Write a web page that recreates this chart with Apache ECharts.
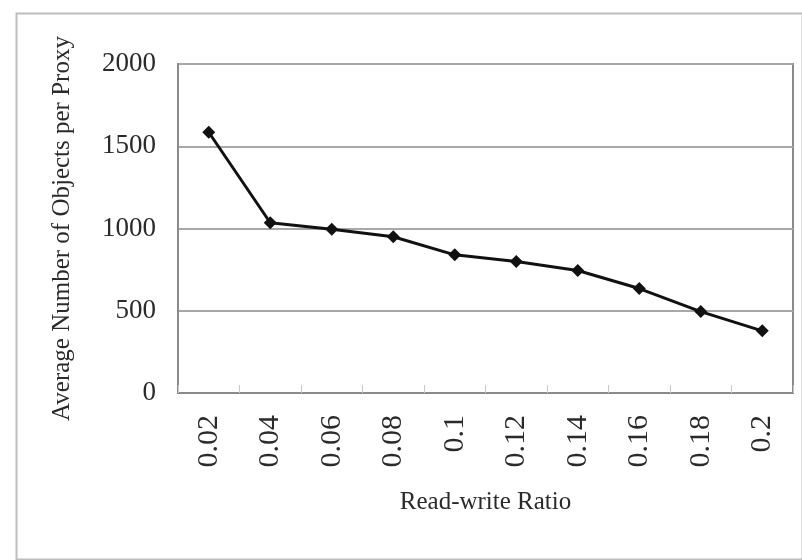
<!DOCTYPE html>
<html>
<head>
<meta charset="utf-8">
<script src="https://cdn.jsdelivr.net/npm/echarts@6/dist/echarts.min.js"></script>
<style>
html,body{margin:0;padding:0;background:#fff;}
#chart{width:802px;height:560px;}
</style>
</head>
<body>
<div id="chart"></div>
<script>
var categories = ['0.02','0.04','0.06','0.08','0.1','0.12','0.14','0.16','0.18','0.2'];
var objectsPerProxy = [1585, 1035, 995, 950, 840, 800, 745, 635, 495, 378];
var yTicks = [0, 500, 1000, 1500, 2000];
var xTitle = 'Read-write Ratio';
var yTitle = 'Average Number of Objects per Proxy';

var chart = echarts.init(document.getElementById('chart'), null, {renderer:'canvas'});
var font = '"Liberation Serif", "DejaVu Serif", serif';
chart.setOption({
  animation: false,
  backgroundColor: '#fff',
  graphic: [{
    type: 'rect', left: 14, top: 11,
    shape: {width: 786, height: 546},
    style: {fill: 'none', stroke: '#bdbdbd', lineWidth: 2}
  }],
  grid: {
    left: 178, right: 9, top: 64, bottom: 167,
    show: true, borderColor: '#8a8a8a', borderWidth: 2, backgroundColor: 'transparent'
  },
  xAxis: {
    type: 'category',
    data: categories,
    boundaryGap: true,
    name: xTitle,
    nameLocation: 'middle',
    nameGap: 97,
    nameTextStyle: {fontFamily: font, fontSize: 25, color: '#2a2a2a'},
    axisLine: {lineStyle: {color: '#8a8a8a', width: 2}},
    axisTick: {show: true, inside: true, length: 8, lineStyle: {color: '#c8c8c8'}},
    axisLabel: {rotate: 90, fontFamily: font, fontSize: 30, color: '#2a2a2a', margin: 22},
    splitLine: {show: false}
  },
  yAxis: {
    type: 'value',
    min: 0, max: 2000, interval: 500,
    name: yTitle,
    nameLocation: 'middle',
    nameGap: 103,
    nameTextStyle: {fontFamily: font, fontSize: 25, color: '#2a2a2a'},
    axisLine: {show: true, lineStyle: {color: '#8a8a8a', width: 2}},
    axisTick: {show: false},
    axisLabel: {fontFamily: font, fontSize: 27, color: '#2a2a2a', margin: 22,
      formatter: function(v){ return yTicks.indexOf(v) >= 0 ? String(v) : ''; }},
    splitLine: {show: true, lineStyle: {color: '#a8a8a8', width: 2}}
  },
  series: [{
    type: 'line',
    data: objectsPerProxy,
    symbol: 'diamond',
    symbolSize: 13,
    lineStyle: {color: '#111', width: 3},
    itemStyle: {color: '#111'}
  }]
});
</script>
</body>
</html>
